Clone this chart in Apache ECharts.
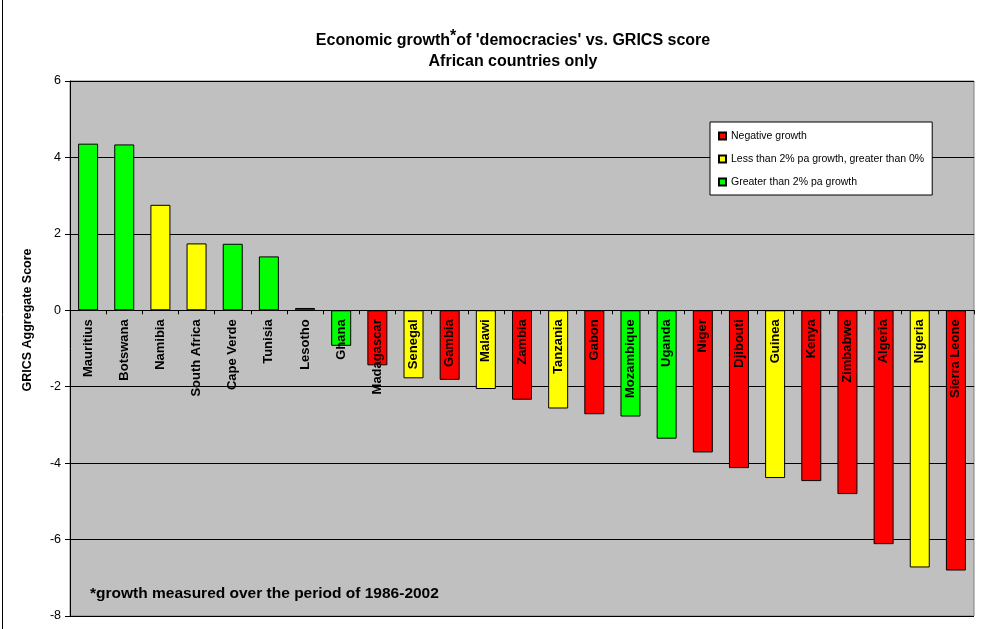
<!DOCTYPE html>
<html>
<head>
<meta charset="utf-8">
<title>Economic growth of 'democracies' vs. GRICS score</title>
<script src="https://cdn.jsdelivr.net/npm/echarts@6/dist/echarts.min.js"></script>
<style>
  html, body { margin: 0; padding: 0; background: #ffffff; }
  #chart { width: 992px; height: 629px; }
</style>
</head>
<body>
<div id="chart"></div>
<script>
// Countries, ordered by GRICS aggregate score
var countries = ['Mauritius', 'Botswana', 'Namibia', 'South Africa', 'Cape Verde', 'Tunisia', 'Lesotho',
  'Ghana', 'Madagascar', 'Senegal', 'Gambia', 'Malawi', 'Zambia', 'Tanzania', 'Gabon', 'Mozambique',
  'Uganda', 'Niger', 'Djibouti', 'Guinea', 'Kenya', 'Zimbabwe', 'Algeria', 'Nigeria', 'Sierra Leone'];

// GRICS aggregate score per country
var scores = [4.36, 4.34, 2.76, 1.75, 1.74, 1.41, 0.06,
  -0.93, -1.44, -1.78, -1.82, -2.06, -2.34, -2.57, -2.72, -2.78,
  -3.36, -3.72, -4.13, -4.39, -4.47, -4.81, -6.12, -6.73, -6.81];

// Growth class per country: 'neg' negative, 'low' 0-2% pa, 'high' above 2% pa
var growthClass = ['high', 'high', 'low', 'low', 'high', 'high', 'high',
  'high', 'neg', 'low', 'neg', 'low', 'neg', 'low', 'neg', 'high',
  'high', 'neg', 'neg', 'low', 'neg', 'neg', 'neg', 'low', 'neg'];

// Legend entries for each growth class
var classKeys = ['neg', 'low', 'high'];
var classNames = ['Negative growth', 'Less than 2% pa growth, greater than 0%', 'Greater than 2% pa growth'];
var classColors = ['#FF0000', '#FFFF00', '#00FF00'];

// Y axis range
var yMin = -8, yMax = 6, yStep = 2;

var FONT = 'Liberation Sans, Arial, sans-serif';

var series = classKeys.map(function (key, k) {
  return {
    name: classNames[k],
    type: 'bar',
    stack: 'score',
    barWidth: 20,
    itemStyle: { color: classColors[k], borderColor: '#000000', borderWidth: 1 },
    emphasis: { disabled: true },
    data: scores.map(function (v, i) { return growthClass[i] === key ? v : null; })
  };
});

// Country names hang just below the zero line, drawn over the bars
series.push({
  type: 'custom',
  name: 'countryLabels',
  z: 10,
  silent: true,
  data: countries.map(function (c, i) { return [i, 0]; }),
  encode: { x: 0, y: 1 },
  renderItem: function (params, api) {
    var p = api.coord([api.value(0), 0]);
    return {
      type: 'text',
      x: p[0],
      y: p[1] + 9,
      rotation: Math.PI / 2,
      style: {
        text: countries[params.dataIndex],
        font: 'bold 13px ' + FONT,
        fill: '#000000',
        align: 'right',
        verticalAlign: 'middle'
      }
    };
  }
});

var chart = echarts.init(document.getElementById('chart'));
chart.setOption({
  animation: false,
  backgroundColor: '#ffffff',
  title: {
    text: "Economic growth{s|*}of 'democracies' vs. GRICS score\nAfrican countries only",
    left: 508,
    textAlign: 'center',
    top: 25,
    textStyle: {
      fontFamily: FONT, fontSize: 16, fontWeight: 'bold', color: '#000000', lineHeight: 21,
      rich: {
        s: { fontFamily: FONT, fontSize: 16, fontWeight: 'bold', color: '#000000', padding: [0, 0, 8, 0] }
      }
    }
  },
  legend: {
    orient: 'vertical',
    left: 710,
    top: 122,
    backgroundColor: '#ffffff',
    borderColor: '#000000',
    borderWidth: 1,
    padding: [8, 8, 7, 8],
    itemWidth: 7,
    itemHeight: 7,
    itemGap: 11,
    icon: 'rect',
    selectedMode: false,
    textStyle: { fontFamily: FONT, fontSize: 10.5, color: '#000000', lineHeight: 12 },
    data: classNames
  },
  grid: {
    left: 70, right: 18, top: 81, bottom: 13,
    outerBoundsMode: 'none',
    containLabel: false,
    show: true,
    backgroundColor: '#C0C0C0',
    borderColor: '#808080',
    borderWidth: 1
  },
  xAxis: {
    type: 'category',
    data: countries,
    z: 5,
    axisLine: { onZero: true, lineStyle: { color: '#000000', width: 1 } },
    axisTick: { show: true, interval: 0, length: 4, lineStyle: { color: '#000000' } },
    axisLabel: { show: false },
    splitLine: { show: false }
  },
  yAxis: {
    type: 'value',
    min: yMin, max: yMax, interval: yStep,
    axisLine: { show: true, lineStyle: { color: '#000000', width: 1 } },
    axisTick: { show: true, length: 5, lineStyle: { color: '#000000' } },
    axisLabel: { fontFamily: FONT, fontSize: 12.5, color: '#000000', margin: 9 },
    splitLine: { show: true, lineStyle: { color: '#000000', width: 1 } }
  },
  graphic: [
    {
      type: 'line',
      shape: { x1: 2.5, y1: 0, x2: 2.5, y2: 629 },
      style: { stroke: '#000000', lineWidth: 1 }
    },
    {
      type: 'text',
      x: 28, y: 320,
      rotation: Math.PI / 2,
      style: {
        text: 'GRICS Aggregate Score',
        font: 'bold 12.5px ' + FONT,
        fill: '#000000',
        align: 'center',
        verticalAlign: 'middle'
      }
    },
    {
      type: 'text',
      x: 90, y: 594,
      z: 20,
      style: {
        text: '*growth measured over the period of 1986-2002',
        font: 'bold 15.5px ' + FONT,
        fill: '#000000',
        align: 'left',
        verticalAlign: 'middle'
      }
    }
  ],
  series: series
});
</script>
</body>
</html>
